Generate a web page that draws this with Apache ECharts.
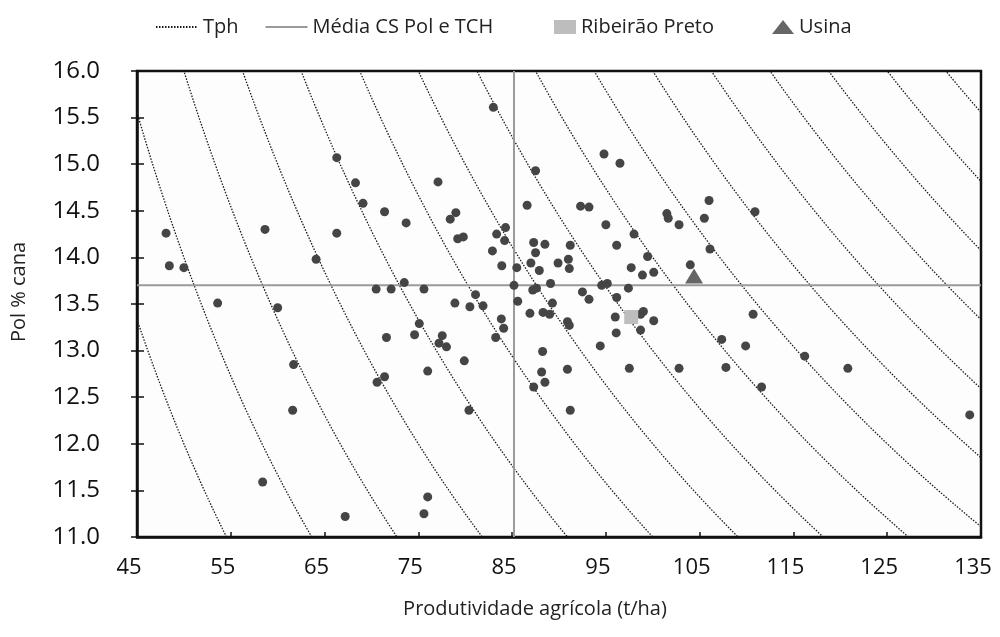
<!DOCTYPE html>
<html>
<head>
<meta charset="utf-8">
<script src="https://cdn.jsdelivr.net/npm/echarts@6/dist/echarts.min.js"></script>
<style>
  html, body { margin: 0; padding: 0; background: #fff; }
  #chart { width: 1000px; height: 637px; }
</style>
</head>
<body>
<div id="chart"></div>
<script>
// ---- Data ----
const tphLevels = [6, 7, 8, 9, 10, 11, 12, 13, 14, 15, 16, 17, 18, 19, 20, 21];
const mediaTCH = 85.2;   // vertical reference line (t/ha)
const mediaPol = 13.7;   // horizontal reference line (Pol % cana)

const tch = [
  48.1, 58.65, 66.3, 48.45, 50.0, 64.1, 53.6, 60.0, 61.7, 61.6, 58.4, 67.2,
  83.0, 66.3, 68.3, 69.1, 71.4, 73.7, 77.1, 87.5, 86.6, 79.0, 78.4, 79.2, 79.8,
  84.3, 83.35, 84.2, 82.9, 83.9, 85.5, 85.2, 87.3, 88.5, 87.5, 87.0, 87.9, 87.2, 87.6,
  70.5, 72.1, 73.5, 75.6, 81.1, 78.9, 80.5, 81.9, 85.6, 83.85, 84.1, 86.9, 75.1,
  83.25, 74.6, 77.55, 77.2, 78.0, 71.6, 79.9, 76.0, 71.4, 70.6, 80.4, 87.3, 76.0, 75.6,
  94.8, 96.5, 92.3, 93.2, 101.5, 101.65, 102.8, 95.0, 105.5, 106.0, 98.0, 96.15,
  91.2, 91.0, 89.9, 91.1, 99.45, 106.1, 97.7, 98.9, 100.1, 104.0, 89.1, 94.55, 95.15,
  97.4, 92.5, 93.2, 96.15, 89.3, 88.3, 89.0, 96.0, 99.0, 98.7, 90.9, 91.1, 100.1,
  98.7, 96.1, 94.4, 88.25, 88.15, 88.5, 90.9, 97.5, 102.8, 91.2,
  110.9, 110.7, 107.35, 109.9, 107.8, 111.6, 116.2, 120.8, 133.8
];
const pol = [
  14.26, 14.30, 14.26, 13.91, 13.89, 13.98, 13.51, 13.46, 12.85, 12.36, 11.59, 11.22,
  15.61, 15.07, 14.80, 14.58, 14.49, 14.37, 14.81, 14.93, 14.56, 14.48, 14.41, 14.20, 14.22,
  14.32, 14.25, 14.18, 14.07, 13.91, 13.89, 13.70, 14.16, 14.14, 14.05, 13.94, 13.86, 13.65, 13.67,
  13.66, 13.66, 13.73, 13.66, 13.60, 13.51, 13.47, 13.48, 13.53, 13.34, 13.24, 13.40, 13.29,
  13.14, 13.17, 13.16, 13.08, 13.04, 13.14, 12.89, 12.78, 12.72, 12.66, 12.36, 12.61, 11.43, 11.25,
  15.11, 15.01, 14.55, 14.54, 14.47, 14.42, 14.35, 14.35, 14.42, 14.61, 14.25, 14.13,
  14.13, 13.98, 13.94, 13.88, 14.01, 14.09, 13.89, 13.81, 13.84, 13.92, 13.72, 13.70, 13.72,
  13.67, 13.63, 13.55, 13.57, 13.51, 13.41, 13.39, 13.36, 13.42, 13.39, 13.31, 13.27, 13.32,
  13.22, 13.19, 13.05, 12.99, 12.77, 12.66, 12.80, 12.81, 12.81, 12.36,
  14.49, 13.39, 13.12, 13.05, 12.82, 12.61, 12.94, 12.81, 12.31
];
const ribeiraoPreto = [97.7, 13.36];
const usina = [104.4, 13.80];

const xTicks = { min: 45, max: 135, interval: 10 };
const yTicks = { min: 11, max: 16, interval: 0.5 };

// ---- Build options ----
const FONT = 'Open Sans';
const series = [];

// Iso-Tph curves: Tph = TCH * Pol / 100
tphLevels.forEach(function (t) {
  const pts = [];
  for (let x = xTicks.min; x <= xTicks.max + 1e-9; x += 0.25) {
    pts.push([x, t * 100 / x]);
  }
  series.push({
    name: 'Tph', type: 'line', data: pts, showSymbol: false, symbol: 'none',
    silent: true, clip: true, z: 2,
    lineStyle: { color: '#1a1a1a', width: 1.3, type: [1.5, 1.5] },
    itemStyle: { color: '#1a1a1a', opacity: 0 }
  });
});

// Mean lines
const meanStyle = { color: '#9a9a9a', width: 2, type: 'solid' };
series.push({
  name: 'Média CS Pol e TCH', type: 'line', showSymbol: false, symbol: 'none', silent: true, z: 3,
  data: [[xTicks.min, mediaPol], [xTicks.max, mediaPol]],
  lineStyle: meanStyle, itemStyle: { color: '#9a9a9a', opacity: 0 }
});
series.push({
  name: 'Média CS Pol e TCH', type: 'line', showSymbol: false, symbol: 'none', silent: true, z: 3,
  data: [[mediaTCH, yTicks.min], [mediaTCH, yTicks.max]],
  lineStyle: meanStyle, itemStyle: { color: '#9a9a9a', opacity: 0 }
});

// Units
series.push({
  name: 'Unidades', type: 'scatter', symbol: 'circle', symbolSize: 9, z: 5,
  data: tch.map(function (x, i) { return [x, pol[i]]; }),
  itemStyle: { color: '#454545', opacity: 1 }
});
series.push({
  name: 'Ribeirão Preto', type: 'scatter', symbol: 'rect', symbolSize: 14, z: 6,
  data: [ribeiraoPreto], itemStyle: { color: '#bdbdbd', opacity: 1 }
});
series.push({
  name: 'Usina', type: 'scatter', symbol: 'triangle', symbolSize: [18, 15], z: 6,
  data: [usina], itemStyle: { color: '#666666', opacity: 1 }
});

const option = {
  animation: false,
  backgroundColor: '#ffffff',
  textStyle: { fontFamily: FONT },
  grid: { left: 137, right: 19, top: 71, bottom: 100, show: true,
          borderColor: '#111', borderWidth: 2.5, backgroundColor: '#fdfdfd' },
  legend: [
    {
      data: ['Tph', 'Média CS Pol e TCH'], left: 150, top: 12,
      itemWidth: 42, itemHeight: 14, itemGap: 26, selectedMode: false,
      textStyle: { fontFamily: FONT, fontSize: 20, color: '#222' }
    },
    {
      data: ['Ribeirão Preto', 'Usina'], left: 549, top: 12,
      itemWidth: 22, itemHeight: 14, itemGap: 58, selectedMode: false,
      textStyle: { fontFamily: FONT, fontSize: 20, color: '#222' }
    }
  ],
  xAxis: {
    type: 'value', min: xTicks.min, max: xTicks.max, interval: xTicks.interval,
    name: 'Produtividade agrícola (t/ha)', nameLocation: 'middle', nameGap: 62,
    nameTextStyle: { fontFamily: FONT, fontSize: 20, color: '#222', padding: [0, 48, 0, 0] },
    axisLine: { show: true, onZero: false, lineStyle: { color: '#111', width: 2.5 } },
    axisTick: { show: true, inside: true, length: 5, lineStyle: { color: '#111', width: 1.5 } },
    axisLabel: { fontFamily: FONT, fontSize: 22, color: '#111', margin: 20, padding: [0, 16, 0, 0] },
    splitLine: { show: false }
  },
  yAxis: [
    {
      type: 'value', min: yTicks.min, max: yTicks.max, interval: yTicks.interval,
      name: 'Pol % cana', nameLocation: 'middle', nameGap: 108, nameRotate: 90,
      nameTextStyle: { fontFamily: FONT, fontSize: 20, color: '#222', padding: [0, 0, 0, 24] },
      axisLine: { show: true, onZero: false, lineStyle: { color: '#111', width: 2.5 } },
      axisTick: { show: true, inside: false, length: 6, lineStyle: { color: '#111', width: 1.5 } },
      axisLabel: { fontFamily: FONT, fontSize: 24, color: '#111', margin: 37,
                   formatter: function (v) { return v.toFixed(1); } },
      splitLine: { show: false }
    },
    {
      type: 'value', min: yTicks.min, max: yTicks.max, interval: yTicks.interval, position: 'left',
      axisLine: { show: false }, axisLabel: { show: false }, splitLine: { show: false },
      axisTick: { show: true, inside: true, length: 7, lineStyle: { color: '#111', width: 1.5 } }
    }
  ],
  series: series
};

const chart = echarts.init(document.getElementById('chart'), null, { renderer: 'canvas' });
chart.setOption(option);
</script>
</body>
</html>
